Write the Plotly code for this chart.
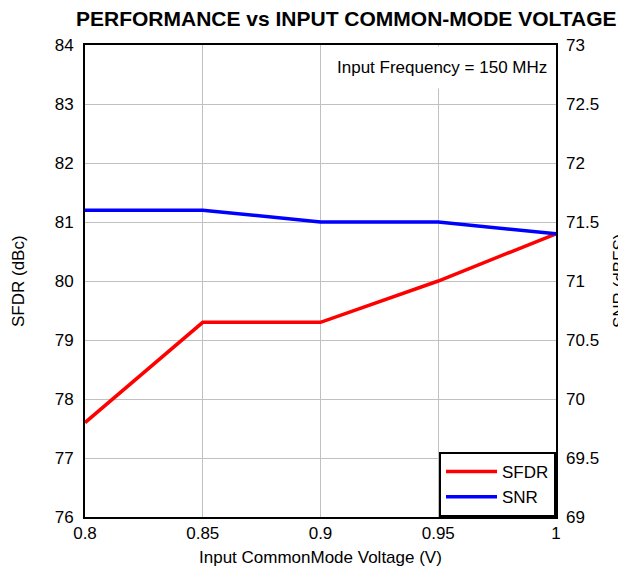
import plotly.graph_objects as go

voltage = [0.8, 0.85, 0.9, 0.95, 1.0]
sfdr = [77.6, 79.3, 79.3, 80.0, 80.8]
snr = [71.6, 71.6, 71.5, 71.5, 71.4]

x_ticks = [0.8, 0.85, 0.9, 0.95, 1.0]
x_labels = ["0.8", "0.85", "0.9", "0.95", "1"]

font = "Liberation Sans, Arial, sans-serif"

# figure pixel geometry (page body adds an 8px offset)
W, H = 626, 568
L, T, PW, PH = 77, 37, 471, 472
R = W - L - PW
B = H - T - PH


def px(xf):
    return (xf - L) / PW


def py(yf):
    return (T + PH - yf) / PH


fig = go.Figure()
fig.add_trace(go.Scatter(x=voltage, y=sfdr, name="SFDR", mode="lines",
                         line=dict(color="#ff0000", width=3.5)))
fig.add_trace(go.Scatter(x=voltage, y=snr, name="SNR", mode="lines", yaxis="y2",
                         line=dict(color="#0000ff", width=3.5)))

fig.update_layout(
    width=W, height=H,
    margin=dict(l=L, r=R, t=T, b=B),
    paper_bgcolor="white", plot_bgcolor="white",
    font=dict(family=font, size=17, color="black"),
    showlegend=True,
    legend=dict(x=1, y=0, xanchor="right", yanchor="bottom",
                bgcolor="white", bordercolor="black", borderwidth=2,
                font=dict(size=17), itemwidth=51),
    xaxis=dict(range=[0.8, 1.0], tickvals=x_ticks, ticktext=x_labels,
               showgrid=True, gridcolor="#c0c0c0", gridwidth=1,
               showline=True, linecolor="black", linewidth=2, mirror=True,
               ticks="", zeroline=False),
    yaxis=dict(range=[76, 84], dtick=1,
               showgrid=True, gridcolor="#c0c0c0", gridwidth=1,
               showline=True, linecolor="black", linewidth=2, mirror=True,
               ticks="", zeroline=False, ticklabelstandoff=6),
    yaxis2=dict(range=[69, 73], dtick=0.5, overlaying="y", side="right",
                showgrid=False, showline=False, ticks="", zeroline=False,
                ticklabelstandoff=9),
    annotations=[
        dict(text="<b>PERFORMANCE vs INPUT COMMON-MODE VOLTAGE</b>",
             x=px(338), y=py(10), xref="paper", yref="paper",
             xanchor="center", yanchor="middle",
             showarrow=False, font=dict(size=21)),
        dict(text="Input Frequency = 150 MHz", x=px(544), y=1 - 1.0 / PH,
             xref="paper", yref="paper", xanchor="right", yanchor="top",
             showarrow=False, bgcolor="white", borderpad=4, height=33,
             valign="middle", font=dict(size=17)),
        dict(text="SFDR (dBc)", x=px(10), y=0.5, xref="paper", yref="paper",
             xanchor="center", yanchor="middle",
             textangle=-90, showarrow=False, font=dict(size=17)),
        dict(text="SNR (dBFS)", x=px(611), y=0.5, xref="paper", yref="paper",
             xanchor="center", yanchor="middle",
             textangle=-90, showarrow=False, font=dict(size=17)),
        dict(text="Input CommonMode Voltage (V)", x=0.5, y=py(549),
             xref="paper", yref="paper", xanchor="center", yanchor="middle",
             showarrow=False, font=dict(size=17)),
    ],
)

fig.write_html("out.html")
